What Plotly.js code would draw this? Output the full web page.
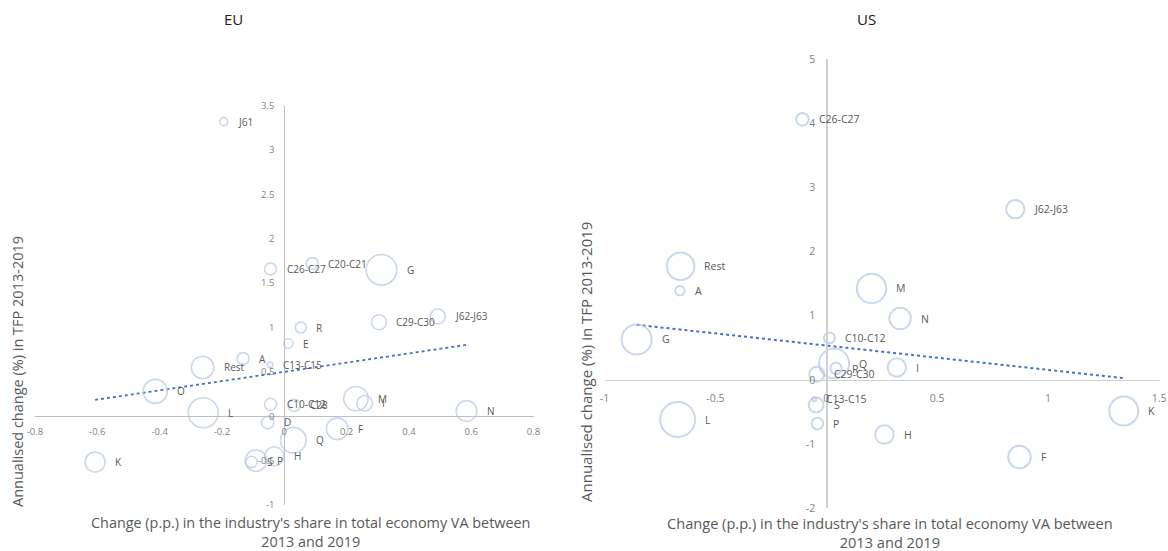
<!DOCTYPE html>
<html><head><meta charset="utf-8">
<script src="https://cdn.plot.ly/plotly-3.0.1.min.js"></script>
<style>html,body{margin:0;padding:0;background:#fff}#chart{width:1168px;height:551px}</style>
</head><body><div id="chart"></div>
<script>
// ---------- DATA ----------
const euIndustries = ['J61','C26-C27','C20-C21','G','C29-C30','J62-J63','R','E','C13-C15','A','Rest','O','L','C10-C12','C28','M','I','N','D','F','Q','H','P','S','K'];
const euShareChange = [-0.194,-0.044,0.090,0.312,0.304,0.493,0.053,0.013,-0.046,-0.132,-0.262,-0.414,-0.260,-0.044,0.032,0.230,0.258,0.585,-0.053,0.170,0.029,-0.032,-0.091,-0.105,-0.607];
const euTfpGrowth = [3.32,1.66,1.72,1.65,1.06,1.125,1.00,0.82,0.58,0.65,0.55,0.28,0.04,0.135,0.123,0.199,0.146,0.06,-0.07,-0.14,-0.27,-0.45,-0.50,-0.515,-0.515];
const euVaShare = [0.8,1.8,1.8,11.7,2.8,2.8,1.5,1.1,0.4,1.8,6.3,7.2,11.3,1.8,1.9,7.4,3.0,5.3,1.9,5.9,8.2,4.5,5.7,1.6,5.0];

const usIndustries = ['C26-C27','Rest','A','M','J62-J63','N','G','C10-C12','Q','R','C29-C30','I','C13-C15','S','P','L','H','F','K'];
const usShareChange = [-0.108,-0.657,-0.66,0.204,0.852,0.333,-0.855,0.014,0.035,0.044,-0.043,0.318,-0.054,-0.046,-0.040,-0.670,0.262,0.871,1.341];
const usTfpGrowth = [4.06,1.77,1.39,1.425,2.66,0.957,0.63,0.655,0.256,0.178,0.089,0.193,-0.30,-0.39,-0.68,-0.617,-0.851,-1.20,-0.483];
const usVaShare = [2.0,9.5,1.1,10.8,4.2,5.8,11.3,1.5,11.3,1.6,2.8,4.2,0.2,2.8,1.7,15.3,4.3,6.4,10.5];

const euXTicks = [-0.8,-0.6,-0.4,-0.2,0,0.2,0.4,0.6,0.8];
const euXTickText = ['-0.8','-0.6','-0.4','-0.2','0','0.2','0.4','0.6','0.8'];
const euYTicks = [-1,-0.5,0,0.5,1,1.5,2,2.5,3,3.5];
const euYTickText = ['-1','-0.5','0','0.5','1','1.5','2','2.5','3','3.5'];
const usXTicks = [-1,-0.5,0,0.5,1,1.5];
const usXTickText = ['-1','-0.5','0','0.5','1','1.5'];
const usYTicks = [-2,-1,0,1,2,3,4,5];
const usYTickText = ['-2','-1','0','1','2','3','4','5'];

const panelTitles = ['EU','US'];
const xTitle = "Change (p.p.) in the industry's share in total economy VA between<br>2013 and 2019";
const yTitle = 'Annualised change (%) in TFP 2013-2019';

// ---------- HELPERS ----------
const W = 1168, H = 551;
const px = v => v / W;
const py = v => 1 - v / H;
const SIZEREF = 0.025;
const radius = v => Math.sqrt(v / (2 * SIZEREF));

function ols(xs, ys) {
  const n = xs.length;
  const mx = xs.reduce((a, b) => a + b, 0) / n;
  const my = ys.reduce((a, b) => a + b, 0) / n;
  let sxy = 0, sxx = 0;
  for (let i = 0; i < n; i++) { sxy += (xs[i] - mx) * (ys[i] - my); sxx += (xs[i] - mx) ** 2; }
  const b = sxy / sxx;
  return { b, a: my - b * mx };
}

const FONT = 'Open Sans, Noto Sans, sans-serif';
const bubbleColor = '#b4c7e7';
const trendColor = '#4472c4';

// panel geometry (pixels)
const eu = { x0: 35, x1: 533.5, yTop: 105.7, yBot: 505, xr: [-0.8, 0.8], yr: [-1, 3.5] };
const us = { x0: 604.5, x1: 1159, yTop: 59, yBot: 508.3, xr: [-1, 1.5], yr: [-2, 5] };

function dom(p) {
  return { xd: [px(p.x0), px(p.x1)], yd: [py(p.yBot), py(p.yTop)] };
}
const euD = dom(eu), usD = dom(us);
function zeroPos(d, r) { return d[0] + (0 - r[0]) / (r[1] - r[0]) * (d[1] - d[0]); }

function trendTrace(xs, ys, xa, ya, w) {
  const { a, b } = ols(xs, ys);
  const xmin = Math.min(...xs), xmax = Math.max(...xs);
  return { type: 'scatter', mode: 'lines', x: [xmin, xmax], y: [a + b * xmin, a + b * xmax],
    xaxis: xa, yaxis: ya, line: { color: trendColor, width: w, dash: 'dot' }, hoverinfo: 'skip', showlegend: false };
}
function bubbleTrace(xs, ys, sz, xa, ya, lw) {
  return { type: 'scatter', mode: 'markers', x: xs, y: ys, xaxis: xa, yaxis: ya,
    marker: { size: sz, sizemode: 'area', sizeref: SIZEREF, color: 'rgba(0,0,0,0)',
      line: { color: bubbleColor, width: lw } }, showlegend: false, hoverinfo: 'skip', cliponaxis: false };
}
function labelAnns(names, xs, ys, sz, xa, ya, fs) {
  return names.map((t, i) => ({ x: xs[i], y: ys[i], xref: xa, yref: ya, text: t, showarrow: false,
    xanchor: 'left', yanchor: 'middle', xshift: radius(sz[i]) + 8, font: { family: FONT, size: fs, color: '#595959' } }));
}

const data = [
  trendTrace(euShareChange, euTfpGrowth, 'x', 'y', 1.8),
  bubbleTrace(euShareChange, euTfpGrowth, euVaShare, 'x', 'y', 1.6),
  trendTrace(usShareChange, usTfpGrowth, 'x2', 'y2', 2),
  bubbleTrace(usShareChange, usTfpGrowth, usVaShare, 'x2', 'y2', 2)
];

function axis(d, r, vals, txt, pos, fs, lc, lw, standoff) {
  return { domain: d, range: r, tickmode: 'array', tickvals: vals, ticktext: txt, anchor: 'free', position: pos,
    showline: true, linecolor: lc, linewidth: lw, showgrid: false, zeroline: false, ticks: '',
    ticklabelstandoff: standoff, tickfont: { family: FONT, size: fs, color: '#7f7f7f' }, fixedrange: true, automargin: false };
}

const layout = {
  width: W, height: H, margin: { l: 0, r: 0, t: 0, b: 0 }, paper_bgcolor: '#fff', plot_bgcolor: 'rgba(0,0,0,0)',
  showlegend: false,
  xaxis: axis(euD.xd, eu.xr, euXTicks, euXTickText, zeroPos(euD.yd, eu.yr), 9.5, '#bfbfbf', 1, 6),
  yaxis: axis(euD.yd, eu.yr, euYTicks, euYTickText, zeroPos(euD.xd, eu.xr), 9.5, '#bfbfbf', 1, 8),
  xaxis2: axis(usD.xd, us.xr, usXTicks, usXTickText, zeroPos(usD.yd, us.yr), 10.5, '#d0d0d0', 1.5, 8),
  yaxis2: axis(usD.yd, us.yr, usYTicks, usYTickText, zeroPos(usD.xd, us.xr), 10.5, '#d0d0d0', 1.5, 9),
  annotations: [
    ...labelAnns(euIndustries, euShareChange, euTfpGrowth, euVaShare, 'x', 'y', 10),
    ...labelAnns(usIndustries, usShareChange, usTfpGrowth, usVaShare, 'x2', 'y2', 10.5),
    { text: panelTitles[0], x: px(233), y: py(19), xref: 'paper', yref: 'paper', showarrow: false, xanchor: 'center', yanchor: 'middle', font: { family: FONT, size: 15, color: '#1a1a1a' } },
    { text: panelTitles[1], x: px(866), y: py(19), xref: 'paper', yref: 'paper', showarrow: false, xanchor: 'center', yanchor: 'middle', font: { family: FONT, size: 15, color: '#1a1a1a' } },
    { text: yTitle, x: px(17), y: py(372), xref: 'paper', yref: 'paper', showarrow: false, textangle: -90, xanchor: 'center', yanchor: 'middle', font: { family: FONT, size: 14.5, color: '#595959' } },
    { text: yTitle, x: px(586), y: py(362), xref: 'paper', yref: 'paper', showarrow: false, textangle: -90, xanchor: 'center', yanchor: 'middle', font: { family: FONT, size: 15, color: '#595959' } },
    { text: xTitle, x: px(310), y: py(532), xref: 'paper', yref: 'paper', showarrow: false, xanchor: 'center', yanchor: 'middle', align: 'center', font: { family: FONT, size: 14.4, color: '#595959' } },
    { text: xTitle, x: px(890), y: py(532), xref: 'paper', yref: 'paper', showarrow: false, xanchor: 'center', yanchor: 'middle', align: 'center', font: { family: FONT, size: 14.6, color: '#595959' } }
  ]
};

Plotly.newPlot('chart', data, layout, { staticPlot: true, displayModeBar: false });
</script>
</body></html>
